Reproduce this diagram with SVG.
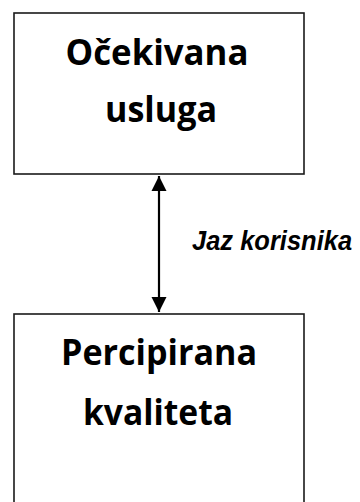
<svg xmlns="http://www.w3.org/2000/svg" width="360" height="502" viewBox="0 0 360 502">
<defs>
<style>
.box{fill:#fff;stroke:#1a1a1a;stroke-width:1.6}
.t{font-family:"Open Sans","Noto Sans",sans-serif;font-weight:bold;font-size:35px;fill:#000;text-anchor:middle}
.lbl{font-family:"Liberation Sans",Arial,sans-serif;font-weight:bold;font-style:italic;font-size:25.5px;fill:#000}
.con{stroke:#000;stroke-width:2.2;fill:none}
</style>
<marker id="ah" viewBox="0 0 10 10" refX="10" refY="5" markerWidth="7" markerHeight="7" markerUnits="strokeWidth" orient="auto-start-reverse">
<path d="M0,0 L10,5 L0,10 z" fill="#000"/>
</marker>
</defs>
<g id="node-ocekivana">
<rect class="box" x="14" y="13" width="290" height="161"/>
<text class="t" x="157" y="65" textLength="183" lengthAdjust="spacingAndGlyphs">Očekivana</text>
<text class="t" x="161" y="122" textLength="112" lengthAdjust="spacingAndGlyphs">usluga</text>
</g>
<g id="node-percipirana">
<rect class="box" x="14" y="314" width="290" height="200"/>
<text class="t" x="159" y="365" textLength="196" lengthAdjust="spacingAndGlyphs">Percipirana</text>
<text class="t" x="158" y="425" textLength="150" lengthAdjust="spacingAndGlyphs">kvaliteta</text>
</g>
<g id="connectors">
<line class="con" x1="159" y1="176" x2="159" y2="312" marker-start="url(#ah)" marker-end="url(#ah)"/>
<text class="lbl" transform="translate(192,250) scale(1,1.1)" x="0" y="0">Jaz korisnika</text>
</g>
</svg>
